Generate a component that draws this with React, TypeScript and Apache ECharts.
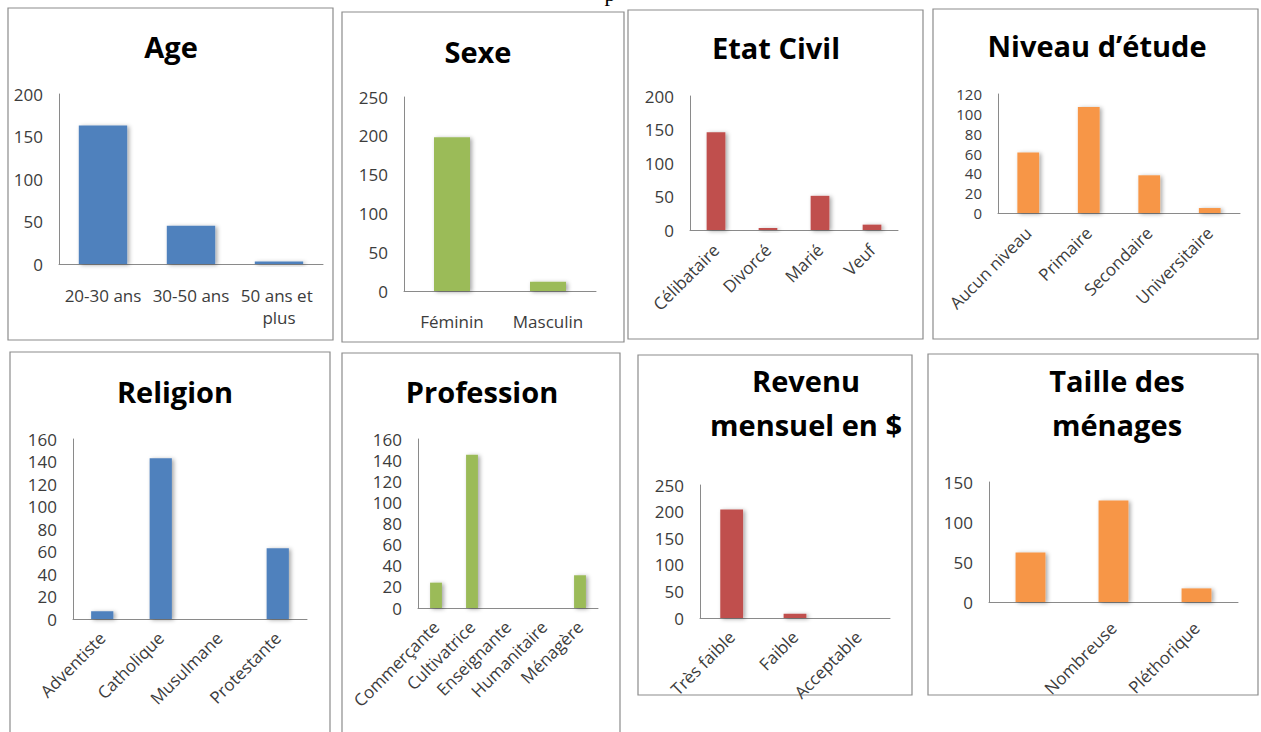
import React, { useEffect, useRef } from "react";
import * as echarts from "echarts";

// Survey profile: counts of respondents per category
const ageCategories = ["20-30 ans", "30-50 ans", "50 ans et plus"];
const ageValues = [163, 45, 3];
const ageTicks = [0, 50, 100, 150, 200];

const sexeCategories = ["Féminin", "Masculin"];
const sexeValues = [198, 12];
const sexeTicks = [0, 50, 100, 150, 200, 250];

const etatCategories = ["Célibataire", "Divorcé", "Marié", "Veuf"];
const etatValues = [146, 3, 51, 8];
const etatTicks = [0, 50, 100, 150, 200];

const etudeCategories = ["Aucun niveau", "Primaire", "Secondaire", "Universitaire"];
const etudeValues = [61, 107, 38, 5];
const etudeTicks = [0, 20, 40, 60, 80, 100, 120];

const religionCategories = ["Adventiste", "Catholique", "Musulmane", "Protestante"];
const religionValues = [7, 143, 0, 63];
const religionTicks = [0, 20, 40, 60, 80, 100, 120, 140, 160];

const professionCategories = ["Commerçante", "Cultivatrice", "Enseignante", "Humanitaire", "Ménagère"];
const professionValues = [24, 145, 0, 0, 31];
const professionTicks = [0, 20, 40, 60, 80, 100, 120, 140, 160];

const revenuCategories = ["Très faible", "Faible", "Acceptable"];
const revenuValues = [204, 8, 0];
const revenuTicks = [0, 50, 100, 150, 200, 250];

const tailleCategories = ["", "Nombreuse", "Pléthorique"];
const tailleValues = [62, 127, 17];
const tailleTicks = [0, 50, 100, 150];

const BLUE = "#4F81BD";
const GREEN = "#9BBB59";
const RED = "#C0504D";
const ORANGE = "#F79646";

type Panel = {
  title: string;
  categories: string[];
  values: number[];
  ticks: number[];
  color: string;
  box: [number, number, number, number];
  grid: [number, number, number, number];
  titleAt: [number, number];
  rotate: number;
  labelMargin: number;
  barWidth: string;
  wrapWidth?: number;
  yFontSize?: number;
};

const panels: Panel[] = [
  {
    title: "Age", categories: ageCategories, values: ageValues, ticks: ageTicks, color: BLUE,
    box: [8, 8, 325, 332], grid: [59, 94, 264, 170], titleAt: [171, 46],
    rotate: 0, labelMargin: 20, barWidth: "55%", wrapWidth: 86,
  },
  {
    title: "Sexe", categories: sexeCategories, values: sexeValues, ticks: sexeTicks, color: GREEN,
    box: [342, 12, 282, 330], grid: [404, 97, 192, 194], titleAt: [478, 51],
    rotate: 0, labelMargin: 19, barWidth: "37.5%",
  },
  {
    title: "Etat Civil", categories: etatCategories, values: etatValues, ticks: etatTicks, color: RED,
    box: [628, 10, 295, 329], grid: [690, 96, 208, 134], titleAt: [776, 47],
    rotate: 45, labelMargin: 17, barWidth: "36%",
  },
  {
    title: "Niveau d’étude", categories: etudeCategories, values: etudeValues, ticks: etudeTicks, color: ORANGE,
    box: [933, 9, 325, 330], grid: [998, 94, 242, 119], titleAt: [1097, 45],
    rotate: 45, labelMargin: 17, barWidth: "36%", yFontSize: 15,
  },
  {
    title: "Religion", categories: religionCategories, values: religionValues, ticks: religionTicks, color: BLUE,
    box: [10, 352, 320, 400], grid: [73, 439, 234, 180], titleAt: [175, 391],
    rotate: 45, labelMargin: 16, barWidth: "38%",
  },
  {
    title: "Profession", categories: professionCategories, values: professionValues, ticks: professionTicks, color: GREEN,
    box: [342, 353, 278, 400], grid: [418, 439, 180, 169], titleAt: [482, 391],
    rotate: 45, labelMargin: 16, barWidth: "33%",
  },
  {
    title: "Revenu\nmensuel en $", categories: revenuCategories, values: revenuValues, ticks: revenuTicks, color: RED,
    box: [638, 355, 274, 340], grid: [700, 485, 190, 133], titleAt: [806, 402],
    rotate: 45, labelMargin: 16, barWidth: "36%",
  },
  {
    title: "Taille des\nménages", categories: tailleCategories, values: tailleValues, ticks: tailleTicks, color: ORANGE,
    box: [928, 354, 330, 341], grid: [989, 482, 249, 120], titleAt: [1117, 402],
    rotate: 45, labelMargin: 23, barWidth: "36%",
  },
];

const LABEL_FONT = "'Open Sans', 'Liberation Sans', sans-serif";
const AXIS_COLOR = "#8a8a8a";
const TEXT_COLOR = "#3c3c3c";

function buildOption(): echarts.EChartsOption {
  const grid: any[] = [];
  const xAxis: any[] = [];
  const yAxis: any[] = [];
  const series: any[] = [];
  const graphic: any[] = [];

  panels.forEach((p, i) => {
    const [gl, gt, gw, gh] = p.grid;
    grid.push({ left: gl, top: gt, width: gw, height: gh, containLabel: false, outerBoundsMode: "none" });

    xAxis.push({
      type: "category",
      gridIndex: i,
      data: p.categories,
      axisLine: { show: true, lineStyle: { color: AXIS_COLOR, width: 1 } },
      axisTick: { show: false },
      axisLabel: {
        interval: 0,
        hideOverlap: false,
        rotate: p.rotate,
        margin: p.labelMargin,
        color: TEXT_COLOR,
        fontFamily: LABEL_FONT,
        fontSize: 17,
        lineHeight: p.rotate ? 18 : 22,
        ...(p.wrapWidth ? { width: p.wrapWidth, overflow: "break" } : {}),
      },
    });

    const step = p.ticks[1] - p.ticks[0];
    yAxis.push({
      type: "value",
      gridIndex: i,
      min: p.ticks[0],
      max: p.ticks[p.ticks.length - 1],
      interval: step,
      axisLine: { show: true, lineStyle: { color: AXIS_COLOR, width: 1 } },
      axisTick: { show: false },
      splitLine: { show: false },
      axisLabel: {
        margin: 16,
        color: TEXT_COLOR,
        fontFamily: LABEL_FONT,
        fontSize: p.yFontSize ?? 17,
        lineHeight: 15,
      },
    });

    series.push({
      type: "bar",
      name: p.title,
      xAxisIndex: i,
      yAxisIndex: i,
      data: p.values,
      barWidth: p.barWidth,
      itemStyle: {
        color: p.color,
        shadowColor: "rgba(0,0,0,0.35)",
        shadowBlur: 4,
        shadowOffsetX: 2,
        shadowOffsetY: 1,
      },
    });

    const [bx, by, bw, bh] = p.box;
    graphic.push({
      type: "rect",
      shape: { x: bx, y: by, width: bw, height: bh },
      style: { fill: "none", stroke: "#8c8c8c", lineWidth: 1.2 },
      silent: true,
      z: 0,
    });

    graphic.push({
      type: "text",
      x: p.titleAt[0],
      y: p.titleAt[1],
      style: {
        text: p.title,
        fill: "#000",
        font: `bold 29px 'Open Sans', 'Liberation Sans', sans-serif`,
        align: "center",
        verticalAlign: "middle",
        lineHeight: 44,
      },
      silent: true,
    });
  });

  // tail of a line of surrounding text, clipped at the top edge
  graphic.push({
    type: "text",
    x: 610,
    y: 4,
    style: {
      text: "p",
      fill: "#000",
      font: "22px 'Liberation Serif', serif",
      align: "center",
      verticalAlign: "bottom",
    },
    silent: true,
  });

  return {
    animation: false,
    backgroundColor: "#ffffff",
    grid,
    xAxis,
    yAxis,
    series,
    graphic,
  };
}

export default function App() {
  const ref = useRef<HTMLDivElement>(null);

  useEffect(() => {
    if (!ref.current) return;
    const chart = echarts.init(ref.current, undefined, { renderer: "svg" });
    chart.setOption(buildOption());
    return () => chart.dispose();
  }, []);

  return (
    <div
      ref={ref}
      style={{ position: "absolute", left: 0, top: 0, width: 1261, height: 732, background: "#fff" }}
    />
  );
}
